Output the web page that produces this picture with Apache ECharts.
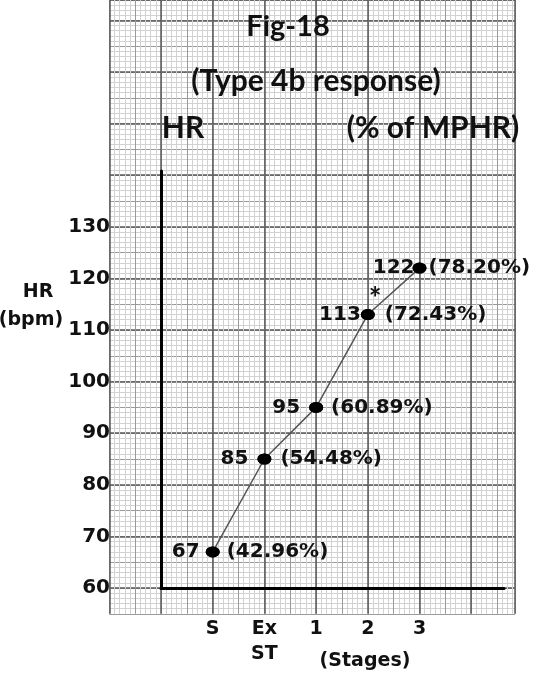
<!DOCTYPE html>
<html>
<head>
<meta charset="utf-8">
<script src="https://cdn.jsdelivr.net/npm/echarts@6/dist/echarts.min.js"></script>
<style>
  html, body { margin: 0; padding: 0; background: #fff; }
  #main { width: 538px; height: 674px; }
</style>
</head>
<body>
<div id="main"></div>
<script>
// chart data
var stageValues = [1, 2, 3, 4, 5];
var stageLabels = ["S", "Ex\nST", "1", "2", "3"];
var hrValues = [67, 85, 95, 113, 122];
var mphrPct = ["42.96", "54.48", "60.89", "72.43", "78.20"];
var yTicks = [60, 70, 80, 90, 100, 110, 120, 130];

// layout of the graph paper (px per unit)
var UX = 51.7, UY = 5.16;
var X0 = 161, Y60 = 588;
var W = 538, H = 674;
var paperLeft = X0 - UX, paperRight = 515, paperBottom = Y60 + 5 * UY;
var paperXMax = -1 + (paperRight - paperLeft) / UX;
var axisTop = 171, axisRight = 504;

var TITLE_FONT = "Lato, 'Open Sans', sans-serif";
var FONT = "'DejaVu Sans', sans-serif";
var gapL = [6, 9, 9, 0, -2];
var gapR = [7, 9, 8, 10, 2];

var points = stageValues.map(function (x, i) {
  return { value: [x, hrValues[i]], label: { distance: gapL[i] } };
});
var pctPoints = stageValues.map(function (x, i) {
  return { value: [x, hrValues[i]], pct: mphrPct[i], label: { distance: gapR[i] } };
});

function paperAxis(gi, min, max, interval, opts) {
  var a = {
    gridIndex: gi, type: "value", min: min, max: max, interval: interval,
    axisLine: { show: false }, axisTick: { show: false }, axisLabel: { show: false },
    splitLine: { show: false }, silent: true
  };
  for (var k in opts) a[k] = opts[k];
  return a;
}

function txt(x, y, s, font) {
  return {
    type: "text", x: x, y: y, z: 100,
    style: { text: s, font: font, fill: "#111", textAlign: "center", textVerticalAlign: "middle" }
  };
}

var mediumLine = { show: true, lineStyle: { color: "#9a9a9a", width: 1 } };
var minorLine = { show: true, lineStyle: { color: "#d2d2d2", width: 1 } };
var majorLine = { show: true, lineStyle: { color: "#5a5a5a", width: 1.5 } };

var myChart = echarts.init(document.getElementById("main"));
var option = {
  animation: false,
  grid: [
    // paper: minor + medium lines
    { left: paperLeft, right: W - paperRight, top: 0, bottom: H - paperBottom },
    // paper: major vertical lines
    { left: paperLeft, right: W - paperRight, top: 0, bottom: H - paperBottom },
    // paper: major horizontal lines
    { left: paperLeft, right: W - paperRight, top: 0, bottom: H - Y60 },
    // data
    { left: X0, right: W - axisRight, top: axisTop, bottom: H - Y60 }
  ],
  xAxis: [
    paperAxis(0, -1, paperXMax, 0.5, { splitLine: mediumLine, minorSplitLine: minorLine, minorTick: { splitNumber: 5 } }),
    paperAxis(1, -1, paperXMax, 1, { splitLine: majorLine }),
    paperAxis(2, -1, paperXMax, 1, {}),
    {
      gridIndex: 3, type: "value", min: 0, max: (axisRight - X0) / UX, interval: 1,
      axisLine: { show: true, onZero: false, lineStyle: { color: "#000", width: 3 } },
      axisTick: { show: false },
      splitLine: { show: false },
      axisLabel: {
        margin: 29, fontSize: 19, lineHeight: 25, fontWeight: "bold", fontFamily: FONT, color: "#111",
        showMaxLabel: false,
        formatter: function (v) {
          var i = stageValues.indexOf(v);
          return i >= 0 ? stageLabels[i] : "";
        }
      }
    }
  ],
  yAxis: [
    paperAxis(0, 55, 55 + paperBottom / UY, 5, { splitLine: mediumLine, minorSplitLine: minorLine, minorTick: { splitNumber: 5 } }),
    paperAxis(1, 55, 55 + paperBottom / UY, 5, {}),
    paperAxis(2, 60, 60 + Y60 / UY, 10, { splitLine: majorLine }),
    {
      gridIndex: 3, type: "value", min: 60, max: 60 + (Y60 - axisTop) / UY, interval: 10,
      axisLine: { show: true, onZero: false, lineStyle: { color: "#000", width: 3 } },
      axisTick: { show: false },
      splitLine: { show: false },
      axisLabel: {
        margin: 51, fontSize: 20, fontWeight: "bold", fontFamily: FONT, color: "#111",
        formatter: function (v) { return yTicks.indexOf(v) >= 0 ? String(v) : ""; }
      }
    }
  ],
  graphic: [
    txt(288, 27, "Fig-18", "bold 29px " + TITLE_FONT),
    txt(316, 81, "(Type 4b response)", "bold 30px " + TITLE_FONT),
    txt(183, 128, "HR", "bold 30px " + TITLE_FONT),
    txt(433, 128, "(% of MPHR)", "bold 30px " + TITLE_FONT),
    txt(38, 292, "HR", "bold 19px " + FONT),
    txt(31, 320, "(bpm)", "bold 19px " + FONT),
    txt(365, 661, "(Stages)", "bold 19px " + FONT)
  ],
  series: [
    {
      type: "line",
      xAxisIndex: 3, yAxisIndex: 3,
      data: points,
      symbol: "circle",
      symbolSize: [14, 11],
      lineStyle: { color: "#555", width: 1.5 },
      itemStyle: { color: "#000", opacity: 1 },
      z: 5,
      label: {
        show: true, position: "left",
        fontSize: 20, fontWeight: "bold", fontFamily: FONT, color: "#111",
        formatter: function (p) { return p.value[1]; }
      },
      markPoint: {
        symbol: "circle", symbolSize: 0,
        data: [{ coord: [4.14, 116], value: "*" }],
        label: { show: true, position: "inside", formatter: "*", fontSize: 30, fontWeight: "bold", fontFamily: TITLE_FONT, color: "#111" }
      }
    },
    {
      type: "scatter",
      xAxisIndex: 3, yAxisIndex: 3,
      data: pctPoints,
      symbol: "circle",
      symbolSize: [14, 11],
      itemStyle: { color: "#000", opacity: 1 },
      z: 6,
      label: {
        show: true, position: "right",
        fontSize: 20, fontWeight: "bold", fontFamily: FONT, color: "#111",
        formatter: function (p) { return "(" + p.data.pct + "%)"; }
      }
    }
  ]
};
myChart.setOption(option);
</script>
</body>
</html>
